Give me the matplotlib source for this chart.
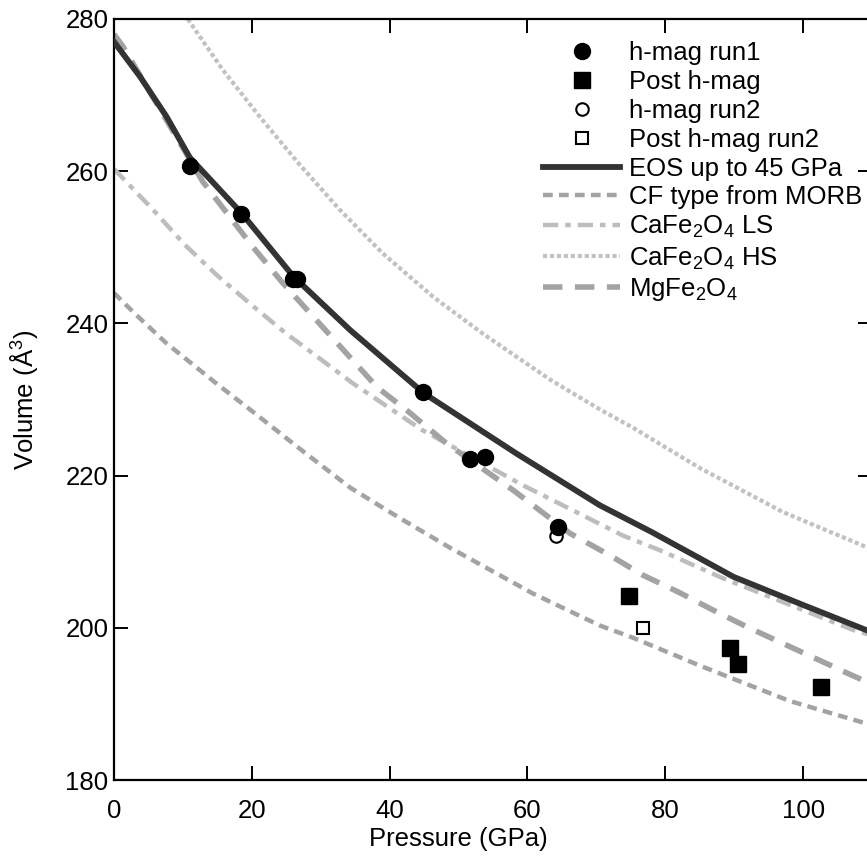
import numpy as np
import matplotlib
matplotlib.use("Agg")
import matplotlib.pyplot as plt

plt.rcParams['font.family'] = ['Liberation Sans', 'DejaVu Sans']
plt.rcParams['mathtext.fontset'] = 'custom'
plt.rcParams['mathtext.rm'] = 'Liberation Sans'
plt.rcParams['mathtext.it'] = 'Liberation Sans'
plt.rcParams['lines.scale_dashes'] = False

# measured points
run1_p = [11.1, 18.5, 26.0, 26.6, 44.9, 51.7, 53.8, 64.5]
run1_v = [260.7, 254.4, 245.8, 245.8, 231.0, 222.2, 222.4, 213.3]
post_p = [74.7, 89.4, 90.6, 102.6]
post_v = [204.2, 197.3, 195.3, 192.2]
run2_p = [64.2]
run2_v = [212.1]
post2_p = [76.8]
post2_v = [200.0]

# curves
eos_p = [0, 3.8, 7.6, 11, 18.5, 26, 34.3, 45, 58.4, 70.5, 78, 89.9, 100, 110]
eos_v = [277.0, 272.4, 267.2, 261.8, 254.5, 246.2, 239.1, 230.8, 222.9, 216.1, 212.6, 206.7, 203.0, 199.4]
cf_p = [0, 3, 7.6, 15, 20, 27, 34.3, 41.5, 48.8, 60.8, 70.5, 75.3, 85.1, 98, 110]
cf_v = [244.0, 241.3, 237.4, 232.0, 228.5, 223.5, 218.4, 214.4, 210.5, 204.5, 200.3, 198.7, 195.0, 190.4, 187.2]
ls_p = [0, 5.7, 10.3, 15.1, 20, 24.8, 34.7, 44.7, 59.4, 73.9, 79.2, 88.4, 107.3, 110]
ls_v = [260.3, 254.9, 250.3, 246.2, 242.4, 238.8, 232.1, 226.0, 218.7, 212.1, 210.2, 206.5, 199.7, 199.0]
hs_p = [10.7, 15.8, 21.2, 27, 32.8, 39, 46.3, 53.6, 63.3, 70.5, 75.3, 85, 97.1, 110]
hs_v = [280.0, 273.3, 267.1, 260.8, 254.9, 249.2, 243.5, 238.6, 232.6, 228.7, 226.3, 221.0, 215.2, 210.3]
mg_p = [0, 1.3, 12.9, 20.2, 24.5, 38.2, 43, 48.3, 57.9, 66.2, 72, 76.8, 81.9, 87, 91.9, 96.7, 101.5, 106.5, 110]
mg_v = [278.0, 276.4, 258.6, 250.0, 245.3, 231.6, 228.2, 224.2, 218.1, 212.4, 209.5, 206.9, 204.7, 202.3, 200.1, 198.1, 196.1, 194.0, 192.6]

fig = plt.figure(figsize=(8.67, 8.57), dpi=100)
W, H = 867, 857
x0, x1, ytop, ybot = 114, 872, 19, 780
ax = fig.add_axes([x0 / W, (H - ybot) / H, (x1 - x0) / W, (ybot - ytop) / H])

fs = 18.5
ax.plot(run1_p, run1_v, 'o', color='black', ms=11.5, zorder=5, label='h-mag run1')
ax.plot(post_p, post_v, 's', color='black', ms=12, zorder=5, label='Post h-mag')
ax.plot(run2_p, run2_v, 'o', mfc='white', mec='black', mew=1.5, ms=9, zorder=4, label='h-mag run2')
ax.plot(post2_p, post2_v, 's', mfc='white', mec='black', mew=1.5, ms=9, zorder=4, label='Post h-mag run2')
ax.plot(eos_p, eos_v, '-', color='#333333', lw=4.2, zorder=3, label='EOS up to 45 GPa')
ax.plot(cf_p, cf_v, color='#a3a3a3', lw=3.2, dashes=(7, 4.5), label='CF type from MORB')
ax.plot(ls_p, ls_v, color='#bdbdbd', lw=3.2, dashes=(11, 5, 4, 5), label='CaFe$_2$O$_4$ LS')
ax.plot(hs_p, hs_v, color='#c2c2c2', lw=3.0, dashes=(3, 2), label='CaFe$_2$O$_4$ HS')
ax.plot(mg_p, mg_v, color='#a3a3a3', lw=4.0, dashes=(14, 9), label='MgFe$_2$O$_4$')

ax.set_xlim(0, 110)
ax.set_ylim(180, 280)
ax.set_xticks([0, 20, 40, 60, 80, 100])
ax.set_yticks([180, 200, 220, 240, 260, 280])
for s in ax.spines.values():
    s.set_linewidth(1.6)
ax.tick_params(direction='in', length=10, width=1.4, top=True, right=True, labelsize=fs)
ax.tick_params(axis='x', pad=14)
ax.tick_params(axis='y', pad=4)

ax.set_xlabel('Pressure (GPa)', fontsize=fs)
ax.set_ylabel('Volume (Å$^3$)', fontsize=fs)
ax.xaxis.set_label_coords((458 - x0) / (x1 - x0), -0.062)
ax.yaxis.set_label_coords(-(x0 - 40) / (x1 - x0), 0.5)

leg = ax.legend(loc='upper left', bbox_to_anchor=((543 - x0) / (x1 - x0), (ybot - 41) / (ybot - ytop)),
                frameon=False, fontsize=fs, handlelength=3.0, handletextpad=0.35,
                labelspacing=0.19, borderpad=0, borderaxespad=0)

fig.savefig('out.png', dpi=100)
